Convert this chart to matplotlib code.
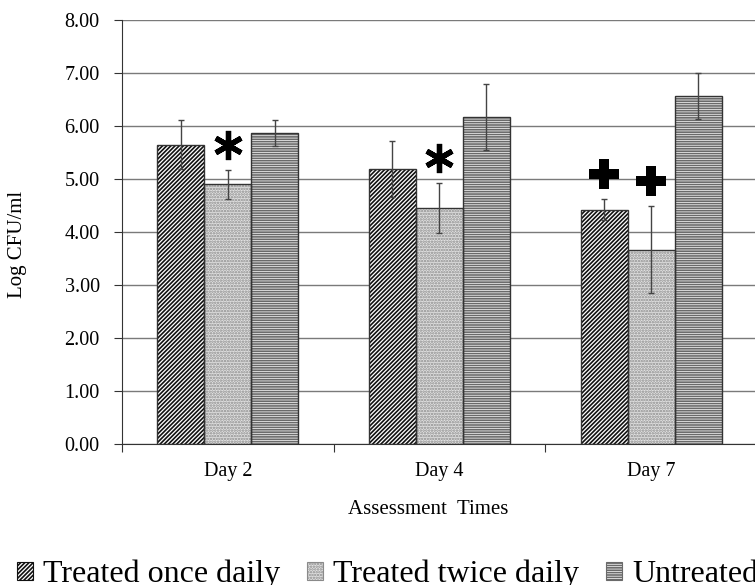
import numpy as np
import matplotlib
matplotlib.use("Agg")
import matplotlib.pyplot as plt
from matplotlib.patches import Patch

plt.rcParams['font.family'] = ['Liberation Serif', 'DejaVu Serif']
plt.rcParams['hatch.linewidth'] = 1.2

# data
days = ["Day 2", "Day 4", "Day 7"]
series = ["Treated once daily", "Treated twice daily", "Untreated"]
once = [5.65, 5.19, 4.42]
once_err = [0.47, 0.53, 0.20]
twice = [4.90, 4.46, 3.67]
twice_err = [0.27, 0.47, 0.82]
untreated = [5.87, 6.17, 6.57]
untreated_err = [0.25, 0.62, 0.43]

# significance marks: (series index, day index, symbol)
marks = [(1, 0, "star"), (1, 1, "star"), (0, 2, "plus"), (1, 2, "plus")]

values = [once, twice, untreated]
errors = [once_err, twice_err, untreated_err]
faces = ["white", "#e2e2e2", "white"]
hatch_cols = ["#111111", "#8a8a8a", "#6a6a6a"]
hatches = ["////////", "......", "-------"]

fig = plt.figure(figsize=(7.55, 5.85), dpi=100)
ax = fig.add_axes([0.1616, 0.241, 0.841, 0.7248])

x = np.arange(len(days))
w = 0.222
for i in range(3):
    pos = x + (i - 1) * w
    # pattern first, then the outline on top
    ax.bar(pos, values[i], w, color=faces[i], edgecolor=hatch_cols[i],
           hatch=hatches[i], linewidth=0, zorder=2)
    ax.bar(pos, values[i], w, fill=False, edgecolor="#333333",
           linewidth=1.0, zorder=3)
    ax.errorbar(pos, values[i], yerr=errors[i], fmt="none", ecolor="#444444",
                elinewidth=1.0, capsize=2.5, capthick=1.0, zorder=4)

for s, d, sym in marks:
    xp = x[d] + (s - 1) * w
    yp = values[s][d] + errors[s][d] + 0.47
    if sym == "star":
        ax.plot(xp, yp, marker=(6, 2, 0), markersize=21, markeredgewidth=3.8,
                color="black", zorder=5)
    else:
        ax.plot(xp, yp, marker="P", markersize=22, color="black",
                markeredgewidth=0, zorder=5)

ax.set_ylim(0, 8)
ax.set_xlim(-0.5, 2.5)
ax.set_yticks(np.arange(0, 9, 1))
ax.set_yticklabels(["%.2f" % v for v in np.arange(0, 9, 1)], fontsize=14.5)
ax.yaxis.grid(True, color="#7a7a7a", linewidth=1.0, zorder=0)
ax.set_axisbelow(True)

ax.set_xticks([-0.5, 0.5, 1.5, 2.5])
ax.set_xticklabels([])
ax.set_xticks(x, minor=True)
ax.set_xticklabels(days, minor=True, fontsize=14.5)
ax.tick_params(axis="x", which="minor", length=0, pad=13)
ax.tick_params(axis="x", which="major", length=6, direction="out", color="#333333")
ax.tick_params(axis="y", length=6, direction="out", color="#333333", pad=10)

for sp in ["top", "right"]:
    ax.spines[sp].set_visible(False)
ax.spines["left"].set_color("#333333")
ax.spines["bottom"].set_color("#333333")

ax.set_ylabel("Log CFU/ml", fontsize=15)
ax.set_xlabel("Assessment  Times", fontsize=15)
ax.xaxis.set_label_coords(0.482, -0.132)
ax.yaxis.set_label_coords(-0.149, 0.47)

# legend runs past the right edge, as in the original
handles = [Patch(facecolor=faces[i], edgecolor=hatch_cols[i], hatch=hatches[i],
                 linewidth=0.8) for i in range(3)]
fig.legend(handles, series, loc="center left", bbox_to_anchor=(0.022, 0.018),
           ncol=3, frameon=False, fontsize=23, handlelength=0.5,
           handleheight=0.5, handletextpad=0.32, columnspacing=0.85,
           borderpad=0, borderaxespad=0)

fig.savefig("out.png", dpi=100)
